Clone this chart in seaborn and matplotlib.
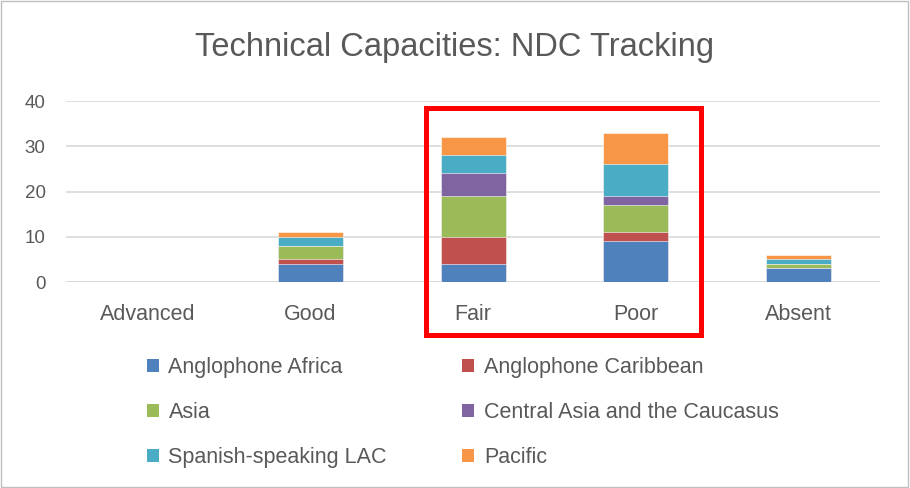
import matplotlib
matplotlib.use("Agg")
import matplotlib.pyplot as plt
from matplotlib.patches import Rectangle, Patch
import seaborn as sns
import pandas as pd
import numpy as np

# chart data
ratings = ["Advanced", "Good", "Fair", "Poor", "Absent"]
regions = ["Anglophone Africa", "Anglophone Caribbean", "Asia",
           "Central Asia and the Caucasus", "Spanish-speaking LAC", "Pacific"]
anglophone_africa = [0, 4, 4, 9, 3]
anglophone_caribbean = [0, 1, 6, 2, 0]
asia = [0, 3, 9, 6, 1]
central_asia = [0, 0, 5, 2, 0]
spanish_lac = [0, 2, 4, 7, 1]
pacific = [0, 1, 4, 7, 1]

series = [anglophone_africa, anglophone_caribbean, asia,
          central_asia, spanish_lac, pacific]
colors = ["#4F81BD", "#C0504D", "#9BBB59", "#8064A2", "#4BACC6", "#F79646"]

sns.set_theme(style="white")
plt.rcParams['font.family'] = ['Liberation Sans', 'DejaVu Sans']
text_col = "#595959"
grid_col = "#d9d9d9"

fig = plt.figure(figsize=(9.1, 4.88), dpi=100)
ax = fig.add_axes([0.073, 0.422, 0.894, 0.371])

# cumulative totals, drawn tallest first so each layer covers the one above
cum = np.cumsum(np.array(series), axis=0)
for i in range(len(series) - 1, -1, -1):
    df = pd.DataFrame({"rating": ratings, "value": cum[i]})
    sns.barplot(data=df, x="rating", y="value", order=ratings, color=colors[i],
                width=0.4, saturation=1, edgecolor="white", linewidth=0.4,
                ax=ax, zorder=3)

ax.set_xlim(-0.5, 4.5)
ax.set_ylim(0, 40)
ax.set_yticks(range(0, 41, 10))
ax.yaxis.grid(True, color=grid_col, linewidth=1.2, zorder=0)
ax.set_axisbelow(True)
for s in ax.spines.values():
    s.set_visible(False)
ax.axhline(0, color=grid_col, linewidth=1.2, zorder=2)
ax.set_xlabel("")
ax.set_ylabel("")
ax.tick_params(axis="both", length=0, labelcolor=text_col)
ax.tick_params(axis="x", labelsize=15.5, pad=16)
ax.tick_params(axis="y", labelsize=13.5, pad=15)

fig.suptitle("Technical Capacities: NDC Tracking", y=0.935, fontsize=23.5,
             color=text_col)

# highlight box around Fair and Poor
ax.add_patch(Rectangle((2 - 0.29, -11.7), 1.69, 50.2, fill=False,
                       edgecolor="#FF0000", linewidth=3.6, clip_on=False,
                       zorder=5))

handles = [Patch(facecolor=c, edgecolor="none", label=r)
           for c, r in zip(colors, regions)]
idx = [0, 2, 4, 1, 3, 5]
fig.legend([handles[i] for i in idx], [regions[i] for i in idx], ncol=2,
           loc="upper left", bbox_to_anchor=(0.1615, 0.269), frameon=False,
           borderpad=0, borderaxespad=0,
           fontsize=15.5, labelcolor=text_col, handlelength=0.55,
           handleheight=0.55, handletextpad=0.45, columnspacing=3.5,
           labelspacing=1.12)

# light frame around the whole figure
fig.add_artist(Rectangle((0.001, 0.002), 0.997, 0.995, transform=fig.transFigure,
                         fill=False, edgecolor="#bfbfbf", linewidth=1))

fig.savefig("out.png", dpi=100)
